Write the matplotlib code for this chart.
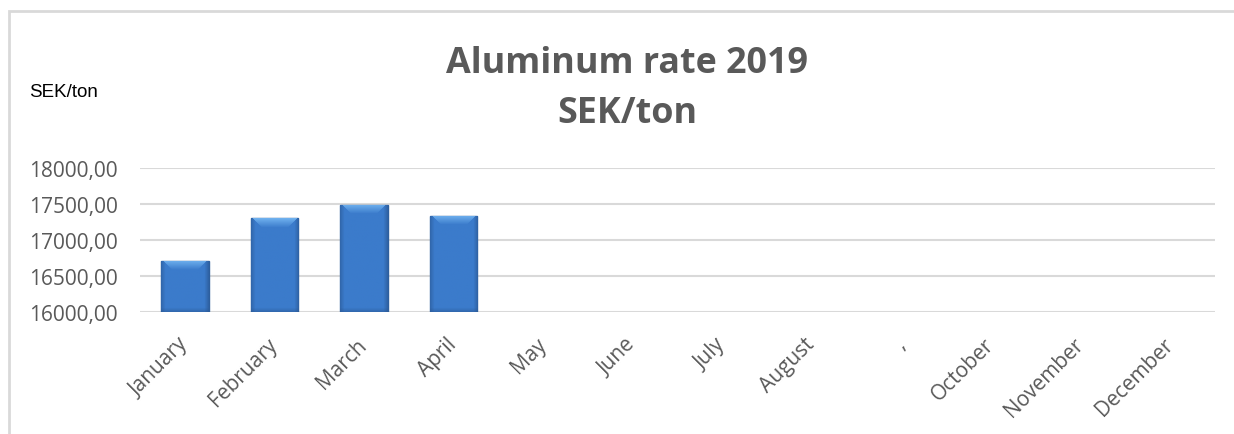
import numpy as np
import matplotlib.pyplot as plt
from matplotlib.patches import Rectangle
from matplotlib.colors import to_rgb

months = ["January", "February", "March", "April", "May", "June", "July",
          "August", ",", "October", "November", "December"]
rates = [16710, 17305, 17490, 17335]   # SEK/ton, Jan-Apr
yticks = [16000, 16500, 17000, 17500, 18000]

W, H = 1234, 435
fig = plt.figure(figsize=(W / 100, H / 100), dpi=100)
ax = fig.add_axes([140 / W, 1 - 313 / H, (1215 - 140) / W, (313 - 169) / H])

x = np.arange(len(months))
bars = ax.bar(x[:len(rates)], np.array(rates) - yticks[0], bottom=yticks[0],
              width=0.53, color="#3b7bcb", edgecolor="#2d5f9e", linewidth=1.0, zorder=3)

# shading like the excel bevel bars
body = np.array(to_rgb("#3b7bcb"))
edge = np.array(to_rgb("#2a5894"))
top = np.array(to_rgb("#74b6f2"))
px_per_unit = 144 / 2000
px_per_cat = 1075 / 12
for b in bars:
    x0, w = b.get_x(), b.get_width()
    y0, h = b.get_y(), b.get_height()
    rows = max(int(h * px_per_unit), 4)
    cols = max(int(w * px_per_cat), 4)
    img = np.tile(body, (rows, cols, 1))
    # darker sides
    for c in range(4):
        k = (4 - c) / 4 * 0.55
        img[:, c] = img[:, c] * (1 - k) + edge * k
        img[:, cols - 1 - c] = img[:, cols - 1 - c] * (1 - k * 1.2) + edge * k * 1.2
    # darker bottom
    for r in range(4):
        k = (4 - r) / 4 * 0.5
        img[r] = img[r] * (1 - k) + edge * k
    # light top bevel, narrowing downward
    bev = min(9, rows)
    for r in range(bev):
        k = 0.9 * (1 - r / bev)
        lo, hi = 2 + r, cols - 2 - r
        if hi > lo:
            img[rows - 1 - r, lo:hi] = img[rows - 1 - r, lo:hi] * (1 - k) + top * k
    img = np.clip(img, 0, 1)
    im = ax.imshow(img, extent=[x0, x0 + w, y0, y0 + h], origin="lower",
                   aspect="auto", zorder=4, interpolation="bilinear")
    im.set_clip_path(b)

ax.set_xlim(-0.5, len(months) - 0.5)
ax.set_ylim(yticks[0], yticks[-1])
ax.set_yticks(yticks)
ax.set_yticklabels([f"{v:.2f}".replace(".", ",") for v in yticks],
                   fontsize=15, color="#595959", family="Open Sans")
ax.set_xticks(x)
ax.set_xticklabels(months, rotation=45, ha="right", rotation_mode="anchor",
                   fontsize=15, color="#595959", family="Open Sans")
ax.tick_params(length=0)
ax.tick_params(axis="y", pad=16)
ax.tick_params(axis="x", pad=21)
for lab in ax.get_xticklabels():
    lab.set_va("center")
ax.grid(axis="y", color="#d9d9d9", linewidth=1.5, zorder=0)
ax.set_axisbelow(True)
for s in ax.spines.values():
    s.set_visible(False)

fig.text(627 / W, 1 - 73 / H, "Aluminum rate 2019", ha="center", va="baseline",
         fontsize=25.8, fontweight="bold", color="#595959", family="Open Sans")
fig.text(627 / W, 1 - 123 / H, "SEK/ton", ha="center", va="baseline",
         fontsize=25.8, fontweight="bold", color="#595959", family="Open Sans")
fig.text(29 / W, 1 - 97 / H, "SEK/ton", ha="left", va="baseline",
         fontsize=13.5, color="black", family="Liberation Sans")

fig.patches.append(Rectangle((9 / W, -0.1), 1.2, 1 - 12 / H + 0.1, transform=fig.transFigure,
                             fill=False, edgecolor="#d9d9d9", linewidth=2))

fig.savefig("out.png", dpi=100)
